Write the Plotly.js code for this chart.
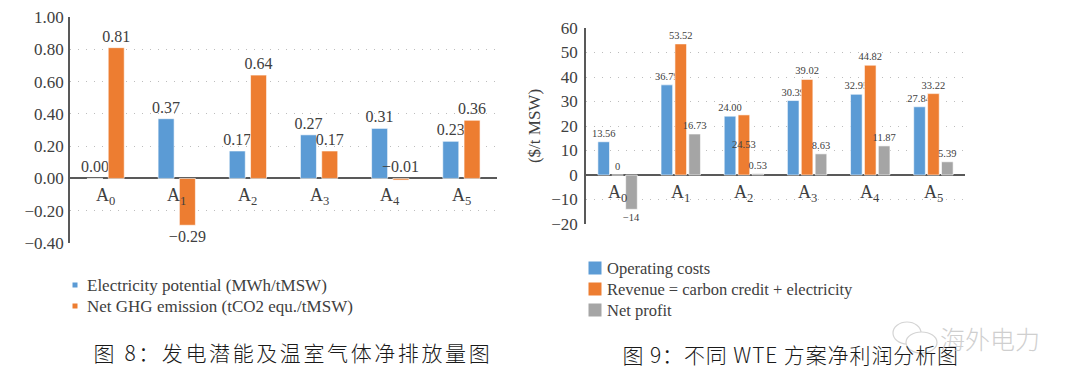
<!DOCTYPE html>
<html>
<head>
<meta charset="utf-8">
<script src="https://cdn.plot.ly/plotly-3.0.1.min.js"></script>
<style>
  html, body { margin: 0; padding: 0; background: #ffffff; }
  #chart { width: 1080px; height: 388px; }
</style>
</head>
<body>
<div id="chart"></div>
<script>
// ---------- data ----------
const categories = ['A0', 'A1', 'A2', 'A3', 'A4', 'A5'];
const categoryLabels = ['A<sub>0</sub>', 'A<sub>1</sub>', 'A<sub>2</sub>', 'A<sub>3</sub>', 'A<sub>4</sub>', 'A<sub>5</sub>'];

// Figure 8
const electricityPotential = [0.00, 0.37, 0.17, 0.27, 0.31, 0.23];
const netGhgEmission = [0.81, -0.29, 0.64, 0.17, -0.01, 0.36];

// Figure 9
const operatingCosts = [13.56, 36.79, 24.00, 30.39, 32.95, 27.84];
const revenue = [0, 53.52, 24.53, 39.02, 44.82, 33.22];
const netProfit = [-14, 16.73, 0.53, 8.63, 11.87, 5.39];
const operatingCostsLabels = ['13.56', '36.79', '24.00', '30.39', '32.95', '27.84'];
const revenueLabels = ['0', '53.52', '24.53', '39.02', '44.82', '33.22'];
const netProfitLabels = ['\u221214', '16.73', '0.53', '8.63', '11.87', '5.39'];

const seriesNames8 = ['Electricity potential (MWh/tMSW)', 'Net GHG emission (tCO2 equ./tMSW)'];
const seriesNames9 = ['Operating costs', 'Revenue = carbon credit + electricity', 'Net profit'];
const caption8 = '图 8：发电潜能及温室气体净排放量图';
const caption9 = '图 9：不同 WTE 方案净利润分析图';
const watermark = '海外电力';

// ---------- styles ----------
const BLUE = '#5b9bd5', ORANGE = '#ed7d31', GRAY = '#a5a5a5';
const colors8 = [BLUE, ORANGE];
const colors9 = [BLUE, ORANGE, GRAY];
const SERIF = 'Liberation Serif';
const TXT = '#404040';
const AXIS = '#595959';
const fmt2 = v => v.toFixed(2).replace('-', '\u2212');
const PW = 1080, PH = 388;
const px = x => x / PW;          // pixel -> paper x
const py = y => 1 - y / PH;      // pixel -> paper y

// left-chart bar geometry (category units)
const W8 = 0.225, OFF8 = [-0.262, 0.037];
// right-chart bar geometry (category units)
const W9 = 0.184, OFF9 = [-0.312, -0.092, 0.128];

// tiny negative values get their label above the zero line (as in the reference)
const nearZero = v => v < 0 && v > -0.05;

const barCommon = { type: 'bar', cliponaxis: false, constraintext: 'none', textangle: 0, showlegend: false };
const edge = { width: 0.6, color: '#ffffff' };

const traces = [
  Object.assign({}, barCommon, {
    name: seriesNames8[0], x: categories, y: electricityPotential,
    text: electricityPotential.map(fmt2), textposition: 'outside',
    textfont: { family: SERIF, size: 16, color: TXT },
    xaxis: 'x', yaxis: 'y', width: W8, offset: OFF8[0],
    marker: { color: colors8[0], line: edge }
  }),
  Object.assign({}, barCommon, {
    name: seriesNames8[1], x: categories, y: netGhgEmission,
    text: netGhgEmission.map(fmt2),
    textposition: netGhgEmission.map(v => nearZero(v) ? 'none' : 'outside'),
    textfont: { family: SERIF, size: 16, color: TXT },
    xaxis: 'x', yaxis: 'y', width: W8, offset: OFF8[1],
    marker: { color: colors8[1], line: edge }
  }),
  Object.assign({}, barCommon, {
    name: seriesNames9[0], x: categories, y: operatingCosts,
    text: operatingCostsLabels, textposition: 'outside',
    textfont: { family: SERIF, size: 10.5, color: TXT },
    xaxis: 'x2', yaxis: 'y2', width: W9, offset: OFF9[0],
    marker: { color: colors9[0], line: edge }
  }),
  Object.assign({}, barCommon, {
    name: seriesNames9[1], x: categories, y: revenue,
    text: revenueLabels,
    textposition: ['outside', 'outside', 'inside', 'outside', 'outside', 'outside'],
    insidetextanchor: 'middle',
    textfont: { family: SERIF, size: 10.5, color: TXT },
    insidetextfont: { family: SERIF, size: 10.5, color: TXT },
    xaxis: 'x2', yaxis: 'y2', width: W9, offset: OFF9[1],
    marker: { color: colors9[1], line: edge }
  }),
  Object.assign({}, barCommon, {
    name: seriesNames9[2], x: categories, y: netProfit,
    text: netProfitLabels, textposition: 'outside',
    textfont: { family: SERIF, size: 10.5, color: TXT },
    xaxis: 'x2', yaxis: 'y2', width: W9, offset: OFF9[2],
    marker: { color: colors9[2], line: edge }
  })
];

const yCommon = {
  showgrid: true, gridcolor: '#bdbdbd', griddash: '1px,7px', gridwidth: 1,
  zeroline: true, zerolinecolor: AXIS, zerolinewidth: 1.5,
  showline: true, linecolor: AXIS, linewidth: 1.5,
  ticks: '',
  tickfont: { family: SERIF, size: 17, color: TXT },
  fixedrange: true
};
const xCommon = {
  type: 'category', showgrid: false, zeroline: false, showline: false,
  showticklabels: false, ticks: '', range: [-0.5, 5.5], fixedrange: true
};

const annotations = [];
const shapes = [];
categories.forEach((c, i) => {
  annotations.push({ xref: 'x', yref: 'y', x: c, y: 0, text: categoryLabels[i],
    showarrow: false, yanchor: 'top', yshift: -5,
    font: { family: SERIF, size: 18, color: TXT } });
  annotations.push({ xref: 'x2', yref: 'y2', x: c, y: 0, text: categoryLabels[i],
    showarrow: false, yanchor: 'top', yshift: -5,
    font: { family: SERIF, size: 18, color: TXT } });
});
// labels of tiny negative bars, drawn above the zero line
netGhgEmission.forEach((v, i) => {
  if (nearZero(v)) {
    annotations.push({ xref: 'x', yref: 'y', x: categories[i], y: 0, text: fmt2(v),
      showarrow: false, yanchor: 'bottom', xanchor: 'center',
      xshift: (OFF8[1] + W8 / 2) * (427 / 6), yshift: 1,
      font: { family: SERIF, size: 16, color: TXT } });
  }
});

// ---------- legends (colour keys + names) ----------
function addLegend(names, colors, markX, textX, y0, rowGap, half, fontSize) {
  names.forEach((n, i) => {
    const yc = y0 + rowGap * i;
    shapes.push({ type: 'rect', xref: 'paper', yref: 'paper',
      x0: px(markX - half), x1: px(markX + half), y0: py(yc + half), y1: py(yc - half),
      fillcolor: colors[i], line: { width: 0 } });
    annotations.push({ xref: 'paper', yref: 'paper', x: px(textX), y: py(yc),
      xanchor: 'left', yanchor: 'middle', showarrow: false, text: n,
      font: { family: SERIF, size: fontSize, color: TXT } });
  });
}
addLegend(seriesNames8, colors8, 75, 85, 285, 21, 2.5, 17);
addLegend(seriesNames9, colors9, 595, 605, 268, 21, 6.5, 16.5);

// ---------- captions and watermark ----------
annotations.push({ xref: 'paper', yref: 'paper', x: px(293), y: py(352),
  text: caption8, showarrow: false, xanchor: 'center', yanchor: 'middle',
  font: { family: 'Noto Sans CJK SC', size: 21, weight: 300, color: '#1a1a1a' } });
annotations.push({ xref: 'paper', yref: 'paper', x: px(790), y: py(354),
  text: caption9, showarrow: false, xanchor: 'center', yanchor: 'middle',
  font: { family: 'Noto Sans CJK SC', size: 21, weight: 300, color: '#1a1a1a' } });
annotations.push({ xref: 'paper', yref: 'paper', x: px(990), y: py(338),
  text: watermark, showarrow: false, xanchor: 'center', yanchor: 'middle',
  font: { family: 'Noto Sans CJK SC', size: 25, weight: 300, color: '#cfcfcf' } });
shapes.push({ type: 'circle', xref: 'paper', yref: 'paper',
  x0: px(893), x1: px(921), y0: py(344), y1: py(322),
  line: { color: '#d4d4d4', width: 1.2 }, fillcolor: 'rgba(255,255,255,0)' });
shapes.push({ type: 'circle', xref: 'paper', yref: 'paper',
  x0: px(906), x1: px(937), y0: py(353), y1: py(332),
  line: { color: '#d4d4d4', width: 1.2 }, fillcolor: '#ffffff' });

const layout = {
  width: PW, height: PH,
  margin: { l: 0, r: 0, t: 0, b: 0 },
  paper_bgcolor: '#ffffff', plot_bgcolor: 'rgba(0,0,0,0)',
  barmode: 'overlay',
  showlegend: false,
  xaxis: Object.assign({}, xCommon, { domain: [px(70), px(497)], anchor: 'y' }),
  yaxis: Object.assign({}, yCommon, { domain: [py(243), py(17)], anchor: 'x',
    range: [-0.4, 1.0], dtick: 0.2, tickformat: '.2f', ticklabelstandoff: 1 }),
  xaxis2: Object.assign({}, xCommon, { domain: [px(586), px(965)], anchor: 'y2' }),
  yaxis2: Object.assign({}, yCommon, { domain: [py(224), py(28)], anchor: 'x2',
    range: [-20, 60], dtick: 10, ticklabelstandoff: 3,
    title: { text: '($/t MSW)', standoff: 6, font: { family: SERIF, size: 17, color: TXT } } }),
  annotations: annotations,
  shapes: shapes
};

Plotly.newPlot('chart', traces, layout, { displayModeBar: false, responsive: false })
  .then(() => {
    // wider character spacing for the two captions, as in the reference
    document.querySelectorAll('.annotation-text').forEach(t => {
      const s = t.textContent;
      if (s === caption8) t.style.letterSpacing = '2.6px';
      if (s === caption9) t.style.letterSpacing = '0.9px';
    });
  });
</script>
</body>
</html>
